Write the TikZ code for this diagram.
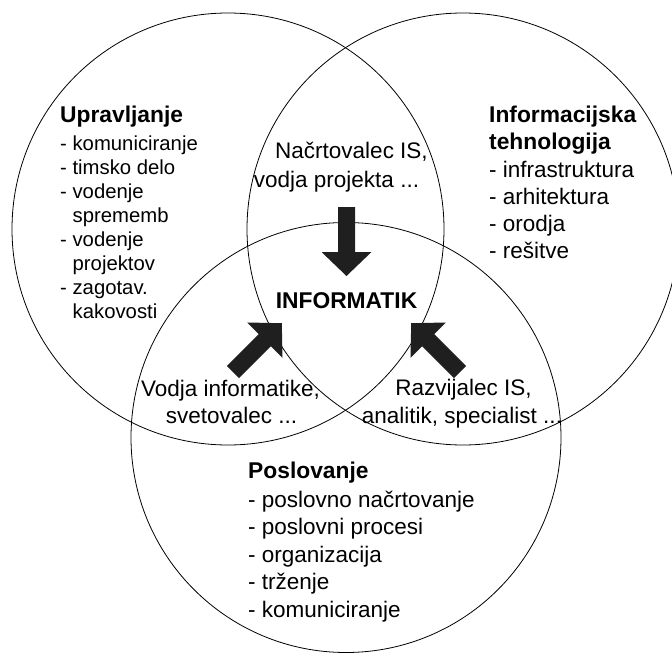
\documentclass[tikz,border=0pt]{standalone}
\usepackage{fontspec}
\setmainfont{Liberation Sans}
\begin{document}
\begin{tikzpicture}[x=1pt,y=-1pt,
  ring/.style={draw=black, line width=0.8pt},
  txt/.style={inner sep=0pt, font=\fontsize{22.5}{27}\selectfont},
  small/.style={inner sep=0pt, font=\fontsize{20.3}{24}\selectfont},
  head/.style={inner sep=0pt, font=\fontsize{22.8}{27}\selectfont\bfseries},
  arrowfill/.style={fill=black!88},
  fatarrow/.pic={\fill[arrowfill] (0,-8.5) -- (45,-8.5) -- (45,-25) -- (69,0) -- (45,25) -- (45,8.5) -- (0,8.5) -- cycle;}
]
\useasboundingbox (0,0) rectangle (672,653);
\clip (0,0) rectangle (672,653);

% circle centres
\coordinate (cUp) at (228,229);
\coordinate (cIT) at (463,229);
\coordinate (cBiz) at (346,437.5);

\draw[ring] (cUp) circle[radius=216];
\draw[ring] (cIT) circle[radius=216];
\draw[ring] (cBiz) circle[radius=215];

% Upravljanje
\node[head, anchor=base west] (upHead) at (60,122) {Upravljanje};
\foreach \t [count=\i] in {- komuniciranje, - timsko delo, - vodenje, \hspace*{12.5pt}sprememb, - vodenje, \hspace*{12.5pt}projektov, - zagotav., \hspace*{12.5pt}kakovosti}
  \node[small, anchor=base west] (up\i) at (60,{150+24*(\i-1)}) {\t};

% Informacijska tehnologija
\node[head, anchor=base west] (itHead1) at (489,122) {Informacijska};
\node[head, anchor=base west] (itHead2) at (489,149) {tehnologija};
\foreach \t [count=\i] in {- infrastruktura, - arhitektura, - orodja, - rešitve}
  \node[txt, anchor=base west] (it\i) at (489,{177+27.3*(\i-1)}) {\t};

% Poslovanje
\node[head, anchor=base west] (bizHead) at (248,478) {Poslovanje};
\foreach \t [count=\i] in {- poslovno načrtovanje, - poslovni procesi, - organizacija, - trženje, - komuniciranje}
  \node[txt, anchor=base west] (biz\i) at (248,{507+27.6*(\i-1)}) {\t};

% overlap roles
\node[txt, anchor=base] (plan1) at (351.5,158) {Načrtovalec IS,};
\node[txt, anchor=base] (plan2) at (336.5,187) {vodja projekta ...};
\node[txt, anchor=base] (lead1) at (230.5,396) {Vodja informatike,};
\node[txt, anchor=base] (lead2) at (231.5,423) {svetovalec ...};
\node[txt, anchor=base] (dev1) at (463.5,395) {Razvijalec IS,};
\node[txt, anchor=base] (dev2) at (462,423) {analitik, specialist ...};

% centre
\node[head, anchor=base] (inf) at (346.5,308) {INFORMATIK};

% block arrows towards the centre
\pic[rotate=-90] at (346.5,207) {fatarrow};
\pic[rotate=45] at (233,372) {fatarrow};
\pic[rotate=135] at (460,372) {fatarrow};
\end{tikzpicture}
\end{document}
